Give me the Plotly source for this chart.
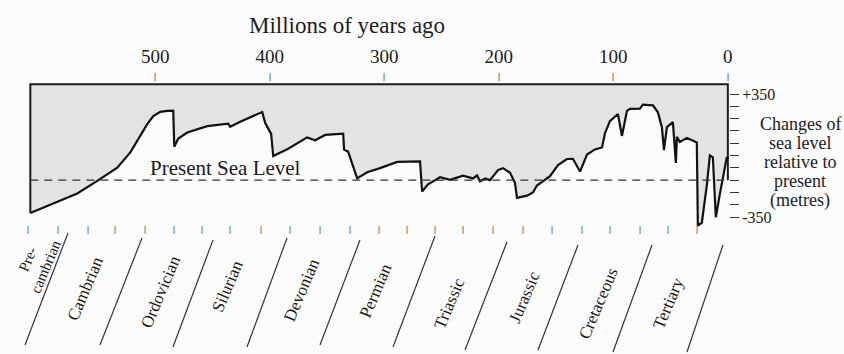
import plotly.graph_objects as go

# ---------------- data ----------------
AGE_MA = [609.1, 589.0, 568.1, 550.6, 533.2, 521.8, 514.8, 507.0, 501.7, 495.6,
          489.5, 484.3, 483.4, 479.9, 472.1, 454.6, 436.3, 434.6, 425.8, 406.6,
          404.0, 401.4, 398.8, 397.0, 383.9, 367.4, 360.4, 351.6, 335.9, 335.1,
          331.6, 323.7, 315.0, 303.7, 288.8, 268.8, 267.0, 261.8, 251.3, 242.6,
          231.2, 222.5, 219.0, 216.4, 212.0, 207.7, 200.7, 196.3, 190.2, 185.9,
          184.1, 175.4, 170.2, 166.7, 164.0, 155.3, 148.3, 140.5, 135.3, 129.1,
          123.0, 116.1, 109.9, 107.3, 103.0, 96.0, 92.5, 88.1, 85.5, 76.8,
          74.2, 65.4, 61.1, 57.6, 55.8, 53.2, 48.0, 45.4, 44.5, 41.9,
          35.8, 28.8, 27.1, 26.2, 22.7, 18.3, 15.7, 13.1, 10.5, 7.0,
          0.9, 0.0]
SEA_LEVEL_M = [-134, -96, -54, -3, 51, 113, 166, 228, 261, 278,
               282, 283, 136, 169, 194, 220, 230, 217, 238, 277,
               232, 208, 188, 98, 128, 174, 162, 184, 189, 124,
               116, 7, 32, 49, 74, 76, -46, -17, 12, 1,
               18, 7, 19, -5, 7, 0, 41, 49, 30, -11,
               -72, -63, -50, -22, -13, 16, 61, 86, 87, 35,
               104, 125, 133, 191, 240, 269, 180, 282, 290, 291,
               307, 304, 276, 215, 122, 216, 236, 70, 176, 155,
               172, 157, 153, -185, -173, -18, 101, 93, -151, -57,
               94, 85]

TOP_TICKS = [500, 400, 300, 200, 100, 0]
BOTTOM_TICK_AGES = [611, 585, 559, 535, 509, 484, 459, 435, 408, 382, 356, 330,
                    305, 280, 256, 231, 205, 179, 154, 127, 103, 77, 52, 27]
RIGHT_TICKS_M = [350, 300, 250, 200, 150, 100, 50, 0, -50, -100, -150]
RIGHT_TICK_TEXT = ["+350", "", "", "", "", "", "", "", "", "", "-350"]
PERIODS = ["Pre-<br>cambrian", "Cambrian", "Ordovician", "Silurian", "Devonian",
           "Permian", "Triassic", "Jurassic", "Cretaceous", "Tertiary"]
RIGHT_LABEL = ["Changes of", "sea level", "relative to", "present", "(metres)"]

# ---------------- layout ----------------
W, H = 844, 354
L, R, T, B = 27, 115, 72, 121
X_RANGE = [612, -1]
Y_RANGE = [-215, 440]
Y_TOP = 390                 # frame top
TOP_MARK_PX = 76            # pixel row of the marks above the frame
BOT_MARK_PX = 229           # pixel row of the marks below the plot
FONT = "Liberation Serif, Times New Roman, serif"
INK = "#1c1c1c"
FILL = "#e3e3e3"
BG = "#fbfbfb"

PW, PH = W - L - R, H - T - B


def paper(px, py):
    return (px - L) / PW, (H - B - py) / PH


# positions of the decorative period band (pixels)
PERIOD_CENTERS = [(37, 263), (85, 288), (160, 292), (227, 286), (301, 290),
                  (375, 291), (449, 303), (524, 297), (598, 303), (668, 303)]
PERIOD_SIZES = [15, 17, 17, 17, 17, 17, 17, 17, 17, 17]
DIAGONALS = [(68, 233, 25, 345), (142, 238, 100, 345), (213, 240, 173, 347),
             (287, 238, 247, 347), (360, 240, 320, 345), (435, 236, 393, 347),
             (507, 242, 465, 350), (578, 245, 538, 350), (652, 245, 613, 352),
             (723, 245, 687, 352)]
RIGHT_LABEL_Y = [124, 143, 162, 181, 200]

fig = go.Figure()

# grey band between frame top and the curve
fig.add_trace(go.Scatter(
    x=AGE_MA + [AGE_MA[-1], AGE_MA[0]],
    y=SEA_LEVEL_M + [Y_TOP, Y_TOP],
    fill="toself", fillcolor=FILL, mode="none", hoverinfo="skip", showlegend=False))

# present sea level (dashed), on the top x axis so it is drawn
fig.add_trace(go.Scatter(
    x=[AGE_MA[0], AGE_MA[-1]], y=[0, 0], mode="lines", xaxis="x2",
    line=dict(color="#333333", width=1.3, dash="8px,6px"),
    hoverinfo="skip", showlegend=False))

# frame
fig.add_trace(go.Scatter(
    x=[AGE_MA[0], AGE_MA[0], AGE_MA[-1], AGE_MA[-1]],
    y=[SEA_LEVEL_M[0], Y_TOP, Y_TOP, 0], mode="lines",
    line=dict(color=INK, width=2), hoverinfo="skip", showlegend=False))

# sea-level curve
fig.add_trace(go.Scatter(
    x=AGE_MA, y=SEA_LEVEL_M, mode="lines",
    line=dict(color="#111111", width=2.2), showlegend=False))

annotations = [
    dict(text="Millions of years ago", xref="paper", yref="paper",
         x=paper(347, 0)[0], y=paper(0, 25)[1], showarrow=False,
         xanchor="center", yanchor="middle", font=dict(family=FONT, size=23, color=INK)),
    dict(text="Present Sea Level", xref="x", yref="y", x=506, y=48, showarrow=False,
         xanchor="left", yanchor="middle", font=dict(family=FONT, size=21, color=INK)),
]
for txt, py in zip(RIGHT_LABEL, RIGHT_LABEL_Y):
    px_, py_ = paper(800, py)
    annotations.append(dict(text=txt, xref="paper", yref="paper", x=px_, y=py_,
                            showarrow=False, xanchor="center", yanchor="middle",
                            font=dict(family=FONT, size=18, color=INK)))
for name, (cx, cy), fs in zip(PERIODS, PERIOD_CENTERS, PERIOD_SIZES):
    px_, py_ = paper(cx, cy)
    annotations.append(dict(text=name, xref="paper", yref="paper", x=px_, y=py_,
                            showarrow=False, xanchor="center", yanchor="middle",
                            textangle=-67, font=dict(family=FONT, size=fs, color=INK)))
# small time marks above the frame and below the plot
for a in TOP_TICKS:
    annotations.append(dict(text="<b>|</b>", xref="x", yref="paper", x=a,
                            y=paper(0, TOP_MARK_PX)[1], showarrow=False,
                            xanchor="center", yanchor="middle",
                            font=dict(family=FONT, size=9, color="#222222")))
for a in BOTTOM_TICK_AGES:
    annotations.append(dict(text="<b>|</b>", xref="x", yref="paper", x=a,
                            y=paper(0, BOT_MARK_PX)[1], showarrow=False,
                            xanchor="center", yanchor="middle",
                            font=dict(family=FONT, size=9, color="#333333")))

shapes = []
for (xt, yt, xb, yb) in DIAGONALS:
    x0, y0 = paper(xt, yt)
    x1, y1 = paper(xb, yb)
    shapes.append(dict(type="line", xref="paper", yref="paper", x0=x0, y0=y0,
                       x1=x1, y1=y1, line=dict(color="#333333", width=1.2)))

fig.update_layout(
    width=W, height=H, margin=dict(l=L, r=R, t=T, b=B),
    paper_bgcolor=BG, plot_bgcolor=BG, showlegend=False,
    xaxis=dict(range=X_RANGE, showticklabels=False, ticks="",
               showgrid=False, zeroline=False, showline=False),
    xaxis2=dict(range=X_RANGE, overlaying="x", side="top", tickvals=TOP_TICKS,
                ticktext=[str(v) for v in TOP_TICKS], ticks="", showgrid=False,
                zeroline=False, showline=False, ticklabelstandoff=4,
                tickfont=dict(family=FONT, size=19, color=INK)),
    yaxis=dict(range=Y_RANGE, side="right", tickvals=RIGHT_TICKS_M,
               ticktext=RIGHT_TICK_TEXT, ticks="outside", ticklen=9, tickwidth=1.3,
               tickcolor="#333333", showgrid=False, zeroline=False, showline=False,
               tickfont=dict(family=FONT, size=16, color=INK)),
    annotations=annotations, shapes=shapes,
)

fig.write_html("out.html")
